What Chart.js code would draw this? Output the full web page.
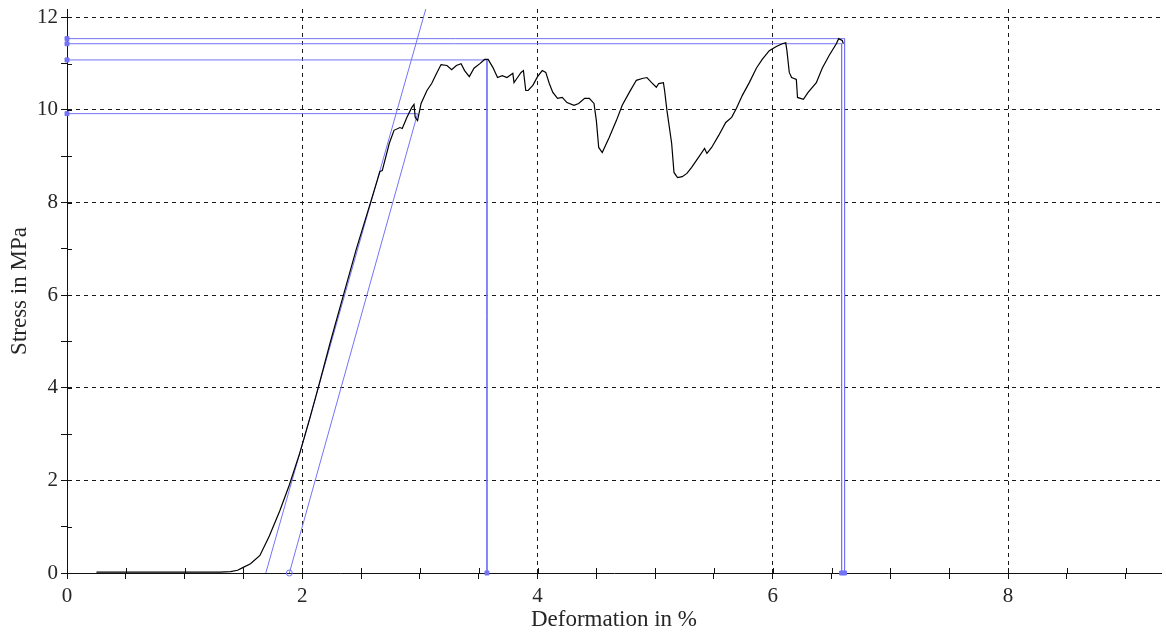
<!DOCTYPE html>
<html>
<head>
<meta charset="utf-8">
<script src="https://cdn.jsdelivr.net/npm/chart.js@4"></script>
<style>
  html, body { margin: 0; padding: 0; background: #fff; }
  #wrap { width: 1166px; height: 632px; }
</style>
</head>
<body>
<div id="wrap"><canvas id="chart"></canvas></div>
<script>
const strain = [0.25, 0.6, 1.0, 1.3, 1.39, 1.45, 1.49, 1.56, 1.64, 1.72, 1.81, 1.89, 1.98, 2.06, 2.13, 2.24, 2.35, 2.46, 2.58, 2.64, 2.66, 2.68,
  2.74, 2.78, 2.83, 2.85, 2.89, 2.93, 2.95, 2.96, 2.98, 3.01, 3.06, 3.10, 3.14, 3.18, 3.23, 3.27, 3.31, 3.35, 3.38, 3.42, 3.46, 3.51,
  3.55, 3.58, 3.62, 3.66, 3.70, 3.74, 3.79, 3.80, 3.83, 3.86, 3.88, 3.90, 3.92, 3.96, 4.00, 4.04, 4.07, 4.10, 4.13, 4.17, 4.21, 4.25,
  4.31, 4.35, 4.40, 4.44, 4.48, 4.50, 4.52, 4.55, 4.61, 4.67, 4.72, 4.78, 4.84, 4.89, 4.93, 4.97, 5.01, 5.03, 5.07, 5.08, 5.10, 5.14,
  5.16, 5.19, 5.23, 5.27, 5.31, 5.37, 5.42, 5.44, 5.48, 5.54, 5.60, 5.65, 5.69, 5.74, 5.80, 5.86, 5.91, 5.97, 6.03, 6.08, 6.11, 6.12,
  6.14, 6.16, 6.20, 6.21, 6.26, 6.30, 6.37, 6.42, 6.48, 6.54, 6.56, 6.59, 6.60];
const stress = [0.02, 0.02, 0.02, 0.02, 0.03, 0.06, 0.11, 0.2, 0.38, 0.8, 1.35, 1.9, 2.6, 3.3, 3.95, 5.0, 6.0, 7.0, 8.0, 8.5, 8.67, 8.69,
  9.28, 9.56, 9.62, 9.60, 9.84, 10.05, 10.12, 9.84, 9.77, 10.14, 10.42, 10.57, 10.78, 10.98, 10.96, 10.87, 10.96, 11.0, 10.85, 10.72, 10.9, 11.0,
  11.09, 11.09, 10.92, 10.70, 10.74, 10.70, 10.79, 10.59, 10.70, 10.81, 10.85, 10.42, 10.42, 10.53, 10.72, 10.85, 10.81, 10.57, 10.38, 10.25, 10.27, 10.16,
  10.10, 10.14, 10.25, 10.25, 10.14, 9.77, 9.19, 9.08, 9.41, 9.77, 10.10, 10.38, 10.64, 10.68, 10.70, 10.59, 10.49, 10.57, 10.59, 10.42, 9.99, 9.28,
  8.65, 8.54, 8.56, 8.63, 8.76, 8.98, 9.17, 9.06, 9.19, 9.45, 9.73, 9.84, 10.03, 10.31, 10.59, 10.9, 11.09, 11.28, 11.37, 11.43, 11.45, 11.28,
  10.81, 10.70, 10.66, 10.27, 10.23, 10.38, 10.59, 10.9, 11.18, 11.43, 11.54, 11.5, 11.43];

// evaluation lines
const modulusStrain = [1.69, 3.05];
const modulusStress = [0, 12.18];
const offsetStrain = [1.89, 2.98];
const offsetStress = [0, 9.92];
const levelStress = [11.54, 11.43, 11.08, 9.92];
const levelEnd = [6.61, 6.585, 3.57, 2.98];
const dropStrain = [6.61, 6.585, 3.57];
const dropStress = [11.54, 11.43, 11.08];

const blue = "#7474f6";
const ink = "#262626";
const serif = "'Liberation Serif', 'Times New Roman', serif";

const pairs = (xs, ys) => xs.map((v, i) => ({ x: v, y: ys[i] }));

const datasets = [
  {
    data: pairs(strain, stress),
    borderColor: "#000",
    borderWidth: 1.2,
    pointRadius: 0,
    order: 0,
  },
  {
    data: pairs(modulusStrain, modulusStress),
    borderColor: blue,
    borderWidth: 1,
    pointRadius: 0,
    order: 1,
  },
  {
    data: pairs(offsetStrain, offsetStress),
    borderColor: blue,
    borderWidth: 1,
    pointRadius: [3, 0],
    pointStyle: "circle",
    pointBackgroundColor: "rgba(0,0,0,0)",
    pointBorderColor: blue,
    order: 1,
    clip: false,
  },
];

levelStress.forEach((lvl, i) => {
  datasets.push({
    data: [{ x: 0, y: lvl }, { x: levelEnd[i], y: lvl }],
    borderColor: blue,
    borderWidth: 1,
    pointRadius: [2.8, 0],
    pointStyle: "rect",
    pointBackgroundColor: blue,
    pointBorderColor: blue,
    order: 1,
    clip: false,
  });
});

dropStrain.forEach((s, i) => {
  datasets.push({
    data: [{ x: s, y: dropStress[i] }, { x: s, y: 0 }],
    borderColor: blue,
    borderWidth: 1,
    pointRadius: [0, 2.8],
    pointStyle: "rect",
    pointBackgroundColor: blue,
    pointBorderColor: blue,
    order: 1,
    clip: false,
  });
});

// tick marks that cross the axes
const innerTicks = {
  id: "innerTicks",
  afterDraw(chart) {
    const { ctx, scales: { x, y } } = chart;
    ctx.save();
    ctx.strokeStyle = "#111";
    ctx.lineWidth = 1;
    ctx.beginPath();
    x.ticks.forEach((t) => {
      const px = Math.round(x.getPixelForValue(t.value)) + 0.5;
      ctx.moveTo(px, x.top);
      ctx.lineTo(px, x.top - 5);
    });
    y.ticks.forEach((t) => {
      const py = Math.round(y.getPixelForValue(t.value)) + 0.5;
      ctx.moveTo(y.right, py);
      ctx.lineTo(y.right + 5, py);
    });
    ctx.stroke();
    ctx.restore();
  },
};

const isMajor = (v) => Math.abs(v % 2) < 1e-6;

new Chart(document.getElementById("chart"), {
  type: "line",
  data: { datasets },
  plugins: [innerTicks],
  options: {
    responsive: true,
    maintainAspectRatio: false,
    animation: false,
    parsing: false,
    elements: { line: { tension: 0 } },
    layout: { padding: { top: 9, right: 4, left: 0, bottom: 0 } },
    plugins: { legend: { display: false }, tooltip: { enabled: false } },
    scales: {
      x: {
        type: "linear",
        min: 0,
        max: 9.3,
        afterFit: (s) => { s.height = 59; s.paddingLeft = 0; s.paddingRight = 0; },
        ticks: {
          stepSize: 0.5,
          includeBounds: false,
          autoSkip: false,
          maxRotation: 0,
          padding: 5,
          color: ink,
          font: { family: serif, size: 21 },
          callback: (v) => (isMajor(v) ? v : ""),
        },
        grid: {
          color: (c) => (c.tick && isMajor(c.tick.value) && c.tick.value !== 0 ? "#1a1a1a" : "rgba(0,0,0,0)"),
          tickColor: "#111",
          tickLength: 6,
          tickBorderDash: [],
          borderDash: [4, 4],
        },
        border: { display: true, color: "#111", width: 1, dash: [4, 4] },
        title: {
          display: true,
          text: "Deformation in %",
          color: ink,
          font: { family: serif, size: 23, lineHeight: 1 },
          padding: { top: 0, bottom: 1 },
        },
      },
      y: {
        type: "linear",
        min: 0,
        max: 12.18,
        afterFit: (s) => { s.width = 67; s.paddingTop = 0; s.paddingBottom = 0; },
        ticks: {
          stepSize: 1,
          includeBounds: false,
          autoSkip: false,
          padding: 3,
          color: ink,
          font: { family: serif, size: 21 },
          callback: (v) => (isMajor(v) ? v : ""),
        },
        grid: {
          color: (c) => (c.tick && isMajor(c.tick.value) && c.tick.value !== 0 ? "#1a1a1a" : "rgba(0,0,0,0)"),
          tickColor: "#111",
          tickLength: 6,
          tickBorderDash: [],
          borderDash: [4, 4],
        },
        border: { display: true, color: "#111", width: 1, dash: [4, 4] },
        title: {
          display: true,
          text: "Stress in MPa",
          color: ink,
          font: { family: serif, size: 23, lineHeight: 1 },
          padding: { top: 8, bottom: 0 },
        },
      },
    },
  },
});
</script>
</body>
</html>
